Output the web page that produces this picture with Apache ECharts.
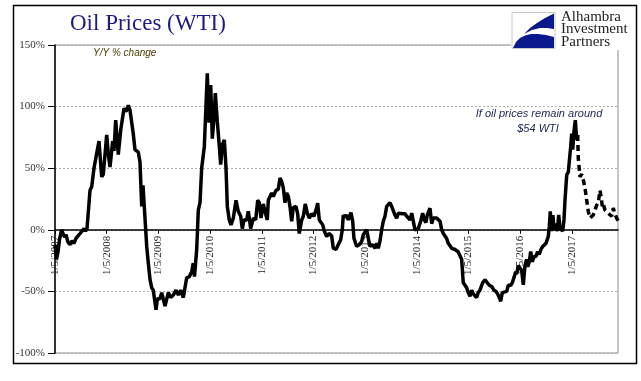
<!DOCTYPE html>
<html>
<head>
<meta charset="utf-8">
<script src="https://cdn.jsdelivr.net/npm/echarts@6/dist/echarts.min.js"></script>
<style>html,body{margin:0;padding:0;background:#fff}#c{width:641px;height:381px}</style>
</head>
<body>
<div id="c"></div>
<script>
// x = years since 1/5/2007, y = Y/Y % change
const yTicks = [-100, -50, 0, 50, 100, 150];
const xTickYears = [2007, 2008, 2009, 2010, 2011, 2012, 2013, 2014, 2015, 2016, 2017];
const actual = [
[0,-12],[0.029,-24],[0.058,-18],[0.087,-8],[0.126,0],[0.155,-1],[0.184,-6],[0.213,-4],[0.251,-10],[0.29,-12],
[0.329,-9],[0.367,-11],[0.406,-7],[0.445,-5],[0.484,-3],[0.522,-4],[0.561,1],[0.59,-1],[0.619,1],[0.648,0],
[0.677,32],[0.71,35],[0.754,50],[0.793,59],[0.851,72],[0.903,43],[0.934,45],[1.0,77],[1.035,60],[1.064,51],
[1.116,72],[1.141,64],[1.174,89],[1.224,61],[1.271,81],[1.306,82],[1.335,98.6],[1.373,96],[1.418,101],[1.451,97],
[1.484,98],[1.514,78],[1.547,65],[1.611,63],[1.644,55],[1.677,19],[1.702,36],[1.727,19],[1.774,-13.5],[1.805,-27],
[1.837,-40],[1.87,-47],[1.901,-49],[1.954,-65],[1.979,-56],[2.031,-56],[2.064,-51],[2.128,-62],[2.191,-51],[2.238,-55],
[2.288,-53],[2.34,-49],[2.385,-53],[2.431,-49],[2.482,-55],[2.547,-39],[2.598,-38],[2.644,-34],[2.675,-27],[2.698,-38],
[2.741,-16],[2.772,16],[2.805,22],[2.837,50],[2.868,49],[2.888,67.5],[2.921,69],[2.946,127],[2.979,87],[3.012,117.5],
[3.043,74],[3.075,91],[3.101,111],[3.139,88],[3.178,68],[3.205,53],[3.236,69],[3.275,73],[3.307,51],[3.333,19],
[3.371,8],[3.404,4],[3.449,9.5],[3.501,24],[3.545,15],[3.592,11],[3.623,1],[3.656,8],[3.708,8],[3.739,15],
[3.785,1],[3.836,9.5],[3.882,8],[3.921,24],[3.952,22],[3.985,9.5],[4.029,21],[4.062,15],[4.106,8],[4.126,24],
[4.159,27],[4.191,30],[4.222,27],[4.275,32],[4.319,33],[4.352,42],[4.385,39],[4.416,34],[4.449,22],[4.482,30],
[4.513,27],[4.545,19],[4.578,7],[4.609,18],[4.661,19],[4.694,13],[4.725,-3],[4.772,8],[4.803,11],[4.841,21],
[4.88,13.5],[4.919,9.5],[4.965,13],[5.01,11],[5.048,16],[5.081,21.6],[5.112,8],[5.145,7],[5.178,4],[5.209,-1],
[5.255,-5.4],[5.305,-3],[5.352,-5],[5.383,-15],[5.435,-16],[5.48,-12],[5.526,-8],[5.557,0],[5.576,12],[5.609,10],
[5.642,12],[5.673,8],[5.725,14],[5.758,7],[5.783,-7],[5.835,-13.5],[5.886,-12],[5.932,-9.5],[5.963,-4],[6.029,0],
[6.06,-7],[6.093,-13.5],[6.145,-12],[6.19,-15],[6.223,-11],[6.253,-15],[6.286,-9],[6.319,0],[6.35,7],[6.383,11],
[6.416,19],[6.447,19],[6.48,22],[6.512,19],[6.543,18],[6.576,12],[6.609,9.5],[6.64,13.5],[6.673,12],[6.725,13],
[6.77,13],[6.803,11],[6.834,12],[6.866,8],[6.9,13.5],[6.93,7],[6.963,0],[6.996,-1],[7.027,1],[7.073,7],
[7.112,13.5],[7.143,8],[7.176,6],[7.201,12],[7.221,13.5],[7.253,17.6],[7.286,5],[7.317,9.5],[7.35,11],[7.383,9.5],
[7.414,11],[7.447,7],[7.48,0],[7.511,-3],[7.544,-5],[7.576,-7],[7.607,-11],[7.64,-12],[7.673,-15],[7.704,-14],
[7.737,-16],[7.77,-15],[7.8,-18],[7.833,-19],[7.866,-24],[7.897,-43],[7.93,-44],[7.963,-47],[7.994,-51],[8.027,-54],
[8.06,-49],[8.091,-52],[8.155,-55],[8.186,-51],[8.22,-49],[8.272,-43],[8.317,-40.5],[8.362,-43],[8.4,-45],[8.447,-46],
[8.491,-49],[8.53,-50],[8.574,-53],[8.621,-58],[8.652,-51],[8.69,-50],[8.737,-50],[8.768,-45],[8.815,-45],[8.845,-43],
[8.884,-38],[8.911,-34],[8.93,-36],[8.961,-29],[8.994,-30],[9.027,-33],[9.058,-44.6],[9.091,-29],[9.122,-24],[9.145,-30],
[9.174,-26],[9.201,-17.6],[9.232,-26],[9.265,-21.6],[9.304,-21.6],[9.336,-17.6],[9.367,-20],[9.4,-16],[9.433,-13.5],[9.464,-15],
[9.497,-11],[9.522,-11],[9.541,-5.4],[9.561,2.7],[9.58,15],[9.607,-1],[9.632,12],[9.652,0],[9.684,5],[9.716,-1],
[9.743,12],[9.768,1],[9.793,2],[9.82,-1],[9.845,8],[9.865,24],[9.898,44.6],[9.929,47],[9.948,48],[9.975,67.5],
[9.994,78],[10.014,65],[10.039,80],[10.064,89],[10.091,73],[10.11,77]
];
const projected = [
[10.11,77],[10.122,58],[10.155,43],[10.188,45],[10.219,40.5],[10.252,34],[10.284,24],[10.315,15],[10.348,9.5],[10.381,10],
[10.412,12],[10.445,13],[10.478,20],[10.509,22],[10.541,32],[10.567,26],[10.586,19],[10.605,21],[10.638,16],[10.671,17],
[10.7,13.5],[10.734,15],[10.767,11],[10.798,17.6],[10.831,13],[10.864,9.5],[10.895,7]
];

const chart = echarts.init(document.getElementById('c'), null, {renderer: 'canvas'});
const serif = '"Liberation Serif", "Times New Roman", serif';
const sans = '"Liberation Sans", Arial, sans-serif';
// plot: top 45, bottom 28 -> height 308; zero line distance from bottom
const plotH = 381 - 45 - 28;
const zeroOffset = plotH * (0 - yTicks[0]) / (yTicks[yTicks.length - 1] - yTicks[0]);
chart.setOption({
  animation: false,
  backgroundColor: '#fff',
  grid: {left: 55, right: 23, top: 45, bottom: 28, containLabel: false, outerBoundsMode: 'none', show: true, borderColor: '#8c8c8c', borderWidth: 1, backgroundColor: 'transparent'},
  xAxis: {
    type: 'value', min: 0, max: 10.89, interval: 1, position: 'bottom', offset: -zeroOffset,
    axisLine: {onZero: false, lineStyle: {color: '#000', width: 1.5}},
    axisTick: {show: true, length: 4, lineStyle: {color: '#000', width: 1}},
    axisLabel: {
      rotate: 90, margin: 6, fontFamily: serif, fontSize: 11, color: '#222', showMaxLabel: false, hideOverlap: false,
      formatter: v => (Number.isInteger(v) && xTickYears.indexOf(2007 + v) >= 0) ? '1/5/' + (2007 + v) : ''
    },
    splitLine: {show: false}
  },
  yAxis: {
    type: 'value', min: yTicks[0], max: yTicks[yTicks.length - 1], interval: 50,
    axisLine: {show: true, onZero: false, lineStyle: {color: '#000', width: 1.5}},
    axisTick: {show: true, length: 7, lineStyle: {color: '#000', width: 1}},
    axisLabel: {formatter: '{value}%', fontFamily: serif, fontSize: 11, color: '#333', margin: 10},
    splitLine: {show: true, lineStyle: {color: '#b0b0b0', width: 1, type: [2, 2]}}
  },
  series: [
    {type: 'line', data: actual, showSymbol: false, lineStyle: {color: '#000', width: 3.5}, z: 3},
    {type: 'line', data: projected, showSymbol: false, lineStyle: {color: '#000', width: 3.5, type: [6, 4]}, z: 3}
  ],
  graphic: [
    {type: 'rect', z: 100, shape: {x: 13.5, y: 5.5, width: 623, height: 358}, style: {fill: 'none', stroke: '#000', lineWidth: 1.5}},
    {type: 'text', z: 100, x: 70, y: 24, style: {text: 'Oil Prices (WTI)', font: '23px ' + serif, fill: '#1c1c80', verticalAlign: 'middle'}},
    {type: 'text', z: 100, x: 93, y: 53, style: {text: 'Y/Y % change', font: 'italic 10px ' + sans, fill: '#4a3b00', verticalAlign: 'middle'}},
    {type: 'text', z: 100, x: 539, y: 114, style: {text: 'If oil prices remain around', font: 'italic 11px ' + sans, fill: '#1a2350', align: 'center', verticalAlign: 'middle'}},
    {type: 'text', z: 100, x: 538, y: 129, style: {text: '$54 WTI', font: 'italic 11px ' + sans, fill: '#1a2350', align: 'center', verticalAlign: 'middle'}},
    {type: 'rect', z: 100, shape: {x: 511, y: 11, width: 118, height: 39}, style: {fill: '#fff'}},
    {type: 'rect', z: 101, shape: {x: 512, y: 12.5, width: 43, height: 36}, style: {fill: '#fff', stroke: '#c8c8c8', lineWidth: 1}},
    {type: 'polygon', z: 102, shape: {points: [[524,34],[530,28],[537,23],[545,18],[554,13.5],[554,29],[547,28],[540,28],[532,30]]}, style: {fill: '#0a1a8c'}},
    {type: 'polygon', z: 102, shape: {points: [[513,48],[516,42],[520,38],[525,35.5],[531,34],[538,34],[546,35],[554,37],[554,48]]}, style: {fill: '#0a1a8c'}},
    {type: 'text', z: 102, x: 561, y: 17, style: {text: 'Alhambra', font: '15px ' + serif, fill: '#222', verticalAlign: 'middle'}},
    {type: 'text', z: 102, x: 561, y: 29.5, style: {text: 'Investment', font: '15px ' + serif, fill: '#222', verticalAlign: 'middle'}},
    {type: 'text', z: 102, x: 561, y: 42, style: {text: 'Partners', font: '15px ' + serif, fill: '#222', verticalAlign: 'middle'}}
  ]
});
</script>
</body>
</html>
